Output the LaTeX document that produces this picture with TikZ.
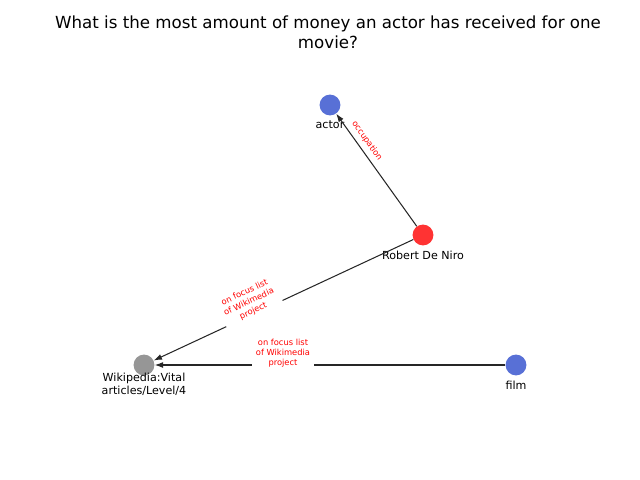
\documentclass[tikz,border=0pt]{standalone}
\usepackage{fontspec}
\setmainfont{DejaVu Sans}
\usetikzlibrary{arrows.meta}

\definecolor{entblue}{RGB}{88,112,214}
\definecolor{entred}{RGB}{255,51,51}
\definecolor{entgray}{RGB}{150,150,150}

\begin{document}
\begin{tikzpicture}[x=0.72pt, y=-0.72pt,
		entity/.style={circle, inner sep=0pt, minimum size=15pt},
		nlabel/.style={font=\fontsize{8}{9.4}\selectfont, align=center, inner sep=0pt},
		elabel/.style={font=\fontsize{6}{7.4}\selectfont, text=red, align=center, fill=white, rounded corners=2pt, inner sep=2.8pt},
		rel/.style={-{Latex[length=6pt,width=4.2pt]}, draw=black!85, line width=0.75pt}]

		\useasboundingbox (0,0) rectangle (640,480);

		% Title
		\node[font=\fontsize{12}{14.6}\selectfont, align=center] (title) at (328,32) {What is the most amount of money an actor has received for one\\movie?};

		% Nodes
		\node[entity, fill=entblue] (actor) at (330,105) {};
		\node[entity, fill=entred] (deniro) at (423,235) {};
		\node[entity, fill=entgray] (vital) at (144,365) {};
		\node[entity, fill=entblue] (film) at (516,365) {};

		% Node labels
		\node[nlabel] (actorlabel) at ([yshift=-14.4pt]actor.center) {actor};
		\node[nlabel] (denirolabel) at ([yshift=-14.4pt]deniro.center) {Robert De Niro};
		\node[nlabel] (vitallabel) at ([yshift=-13.8pt]vital.center) {Wikipedia:Vital\\articles/Level/4};
		\node[nlabel] (filmlabel) at ([yshift=-14.4pt]film.center) {film};

		% Edges
		\draw[rel] (deniro) -- (actor);
		\draw[rel] (deniro) -- (vital);
		\draw[rel] (film) -- (vital);

		% Edge labels
		\node[elabel, rotate=-54.4, inner sep=1pt] (occlabel) at (367,141) {occupation};
		\node[elabel, rotate=25] (focuslabel) at (249,302) {on focus list\\of Wikimedia\\project};
		\node[elabel] (filmfocuslabel) at (283,353) {on focus list\\of Wikimedia\\project};

	\end{tikzpicture}
\end{document}
